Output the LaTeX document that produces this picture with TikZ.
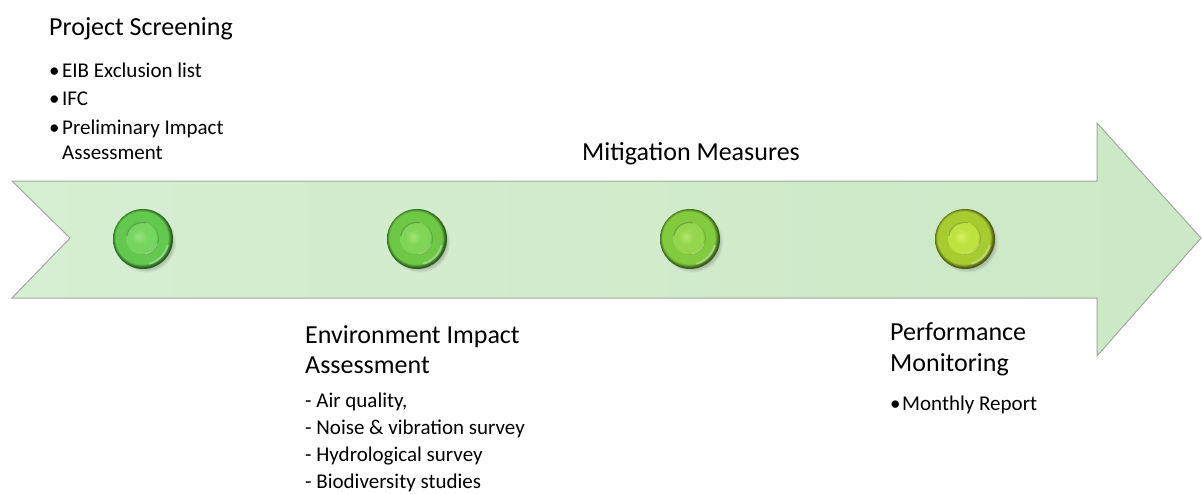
\documentclass[tikz,border=0pt]{standalone}
\usepackage{fontspec}
\setmainfont{Carlito}
\usetikzlibrary{shadows}

% arrow colours
\definecolor{arrowleft}{RGB}{214,238,209}
\definecolor{arrowright}{RGB}{204,232,198}
\definecolor{arrowedge}{RGB}{158,170,156}

% bead palettes: body, rim, highlight, inner disc
\definecolor{beadAbody}{RGB}{98,200,78}
\definecolor{beadArim}{RGB}{50,116,38}
\definecolor{beadAhi}{RGB}{150,228,128}
\definecolor{beadAin}{RGB}{118,212,96}
\definecolor{beadBbody}{RGB}{110,200,70}
\definecolor{beadBrim}{RGB}{56,116,34}
\definecolor{beadBhi}{RGB}{160,230,116}
\definecolor{beadBin}{RGB}{128,212,86}
\definecolor{beadCbody}{RGB}{130,202,62}
\definecolor{beadCrim}{RGB}{68,116,30}
\definecolor{beadChi}{RGB}{178,232,106}
\definecolor{beadCin}{RGB}{148,214,78}
\definecolor{beadDbody}{RGB}{166,204,48}
\definecolor{beadDrim}{RGB}{94,114,22}
\definecolor{beadDhi}{RGB}{216,240,96}
\definecolor{beadDin}{RGB}{190,226,64}

\colorlet{beadbody}{beadAbody}
\colorlet{beadrim}{beadArim}
\colorlet{beadhi}{beadAhi}
\colorlet{beadin}{beadAin}

% outer ball: 25bp is the rim of the circle
\pgfdeclareradialshading[beadbody,beadrim]{beadouter}{\pgfpoint{-2bp}{2bp}}{%
  color(0bp)=(beadbody!92!white); color(14bp)=(beadbody); color(22bp)=(beadbody);
  color(24bp)=(beadrim); color(25bp)=(beadrim!80!black); color(50bp)=(beadrim!80!black)}
% inner disc, lit from the upper left
\pgfdeclareradialshading[beadin,beadhi,beadbody]{beadinner}{\pgfpoint{-6bp}{3bp}}{%
  color(0bp)=(beadhi); color(12bp)=(beadin); color(24bp)=(beadin);
  color(26bp)=(beadbody!88!black); color(50bp)=(beadbody!88!black)}

\tikzset{
  titletext/.style={anchor=base west, inner sep=0pt, text=black,
    font=\fontsize{26}{30}\selectfont},
  subtext/.style={anchor=base west, inner sep=0pt, text=black,
    font=\fontsize{21}{25}\selectfont},
  beadshell/.style={circle, minimum size=60pt, inner sep=0pt, shading=beadouter,
    circular drop shadow={shadow xshift=2.5pt, shadow yshift=-3pt, shadow scale=1.02, opacity=0.45}},
  beadcore/.style={circle, minimum size=33pt, inner sep=0pt, shading=beadinner},
  glint/.style={white, opacity=0.35, line width=2pt, line cap=round},
  crease/.style={black, opacity=0.22, line width=1.2pt, line cap=round},
  palette/.style={/utils/exec={\colorlet{beadbody}{bead#1body}\colorlet{beadrim}{bead#1rim}%
    \colorlet{beadhi}{bead#1hi}\colorlet{beadin}{bead#1in}}}
}

\begin{document}
\begin{tikzpicture}[x=1pt, y=-1pt]
  \useasboundingbox (0,0) rectangle (1202,493);

  % timeline arrow with a notched tail
  \draw[arrowedge, line width=1pt, left color=arrowleft, right color=arrowright]
    (12,181) -- (1097,181) -- (1097,123) -- (1201,238) -- (1097,356)
    -- (1097,298) -- (12,298) -- (70,238) -- cycle;

  % milestone beads
  \foreach \nm/\px/\pal in {s1/143/A, s2/417/B, s3/690/C, s4/965/D}{
    \begin{scope}[palette=\pal]
      \node[beadshell] (\nm) at (\px,239) {};
      \draw[glint, shift={(\nm.center)}] (15:25.5) arc[start angle=15, end angle=75, radius=25.5];
      \node[beadcore] (\nm c) at ([xshift=-0.5pt, yshift=0.5pt]\nm.center) {};
      \draw[crease, shift={(\nm c.center)}] (190:16) arc[start angle=190, end angle=280, radius=16];
      \draw[glint, opacity=0.3, line width=1.2pt, shift={(\nm c.center)}] (20:15.6) arc[start angle=20, end angle=80, radius=15.6];
    \end{scope}
  }

  % Project Screening
  \node[titletext] (ps) at (49,35) {Project Screening};
  \node[subtext] (psb1) at (49,77) {•};
  \node[subtext] (pst1) at (62,77) {EIB Exclusion list};
  \node[subtext] (psb2) at (49,105) {•};
  \node[subtext] (pst2) at (62,105) {IFC};
  \node[subtext] (psb3) at (49,134) {•};
  \node[subtext] (pst3) at (62,134) {Preliminary Impact};
  \node[subtext] (pst4) at (62,159) {Assessment};

  % Mitigation Measures
  \node[titletext] (mm) at (582,160) {Mitigation Measures};

  % Environment Impact Assessment
  \node[titletext] (eia1) at (305,343) {Environment Impact};
  \node[titletext] (eia2) at (305,373) {Assessment};
  \node[subtext] (eil1) at (305,407) {- Air quality,};
  \node[subtext] (eil2) at (305,434) {- Noise \& vibration survey};
  \node[subtext] (eil3) at (305,461) {- Hydrological survey};
  \node[subtext] (eil4) at (305,488) {- Biodiversity studies};

  % Performance Monitoring
  \node[titletext] (pm1) at (890,340) {Performance};
  \node[titletext] (pm2) at (890,371) {Monitoring};
  \node[subtext] (pmb1) at (890,410) {•};
  \node[subtext] (pmt1) at (902,410) {Monthly Report};
\end{tikzpicture}
\end{document}
